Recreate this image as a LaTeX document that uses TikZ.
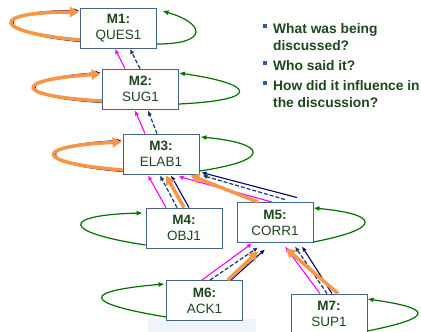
\documentclass[tikz,border=0pt]{standalone}
\usepackage{fontspec}
\setmainfont{Liberation Sans}
\usetikzlibrary{arrows.meta}
\usetikzlibrary{calc}

\definecolor{boxline}{RGB}{70,100,135}
\definecolor{textgreen}{RGB}{28,72,28}
\definecolor{loopgreen}{RGB}{0,112,0}
\definecolor{navyline}{RGB}{0,0,110}
\definecolor{dashnavy}{RGB}{25,55,105}
\definecolor{pinkline}{RGB}{255,0,255}
\definecolor{tierorange}{RGB}{247,150,70}
\definecolor{bulletblue}{RGB}{50,90,170}
\definecolor{faintblue}{RGB}{238,244,250}

\tikzset{
  msgbox/.style={draw=boxline, line width=0.9pt, fill=white, minimum width=76pt,
    minimum height=40pt, inner sep=0pt, align=center, text=textgreen,
    font=\fontsize{13.5}{16}\selectfont},
  qtext/.style={anchor=base west, inner sep=0pt, align=left, text=textgreen,
    font=\bfseries\fontsize{13.8}{17}\selectfont},
  greenloop/.style={draw=loopgreen, line width=1.2pt, -{Latex[length=6pt,width=5pt]}},
  orangearr/.style={draw=tierorange, line width=3.5pt, -{Triangle[length=9pt,width=10pt]}},
  navyarr/.style={draw=navyline, line width=1.1pt, -{Latex[length=5pt,width=4.5pt]}},
  dasharr/.style={draw=dashnavy, line width=1.2pt, dash pattern=on 4pt off 2pt,
    -{Latex[length=5pt,width=4.5pt]}},
  pinkarr/.style={draw=pinkline, line width=1.1pt, -{Latex[length=5pt,width=4.5pt]}}
}

\begin{document}
\begin{tikzpicture}[x=1pt,y=-1pt]
  \useasboundingbox (0,0) rectangle (421,332);
  \fill[faintblue] (148,319) rectangle (256,332);

  % messages
  \node[msgbox] (m1) at (118.5,28.5) {\textbf{M1:}\\QUES1};
  \node[msgbox] (m2) at (140.5,89) {\textbf{M2:}\\SUG1};
  \node[msgbox] (m3) at (161,154) {\textbf{M3:}\\ELAB1};
  \node[msgbox] (m4) at (184,228) {\textbf{M4:}\\OBJ1};
  \node[msgbox] (m5) at (275,222.5) {\textbf{M5:}\\CORR1};
  \node[msgbox] (m6) at (204.5,300.5) {\textbf{M6:}\\ACK1};
  \node[msgbox] (m7) at (329,314) {\textbf{M7:}\\SUP1};

  % questions (base = last line)
  \node[qtext] (q1) at (273,50) {What was being\\discussed?};
  \node[qtext] (q2) at (273,70) {Who said it?};
  \node[qtext] (q3) at (273,107) {How did it influence in\\the discussion?};
  \fill[bulletblue] ($(q1.base west)+(-10,-26)$) rectangle +(4,4);
  \fill[bulletblue] ($(q2.base west)+(-10,-9)$) rectangle +(4,4);
  \fill[bulletblue] ($(q3.base west)+(-10,-26)$) rectangle +(4,4);

  % loops on the left
  \draw[navyarr] ($(m1.west)+(0,13)$) .. controls +(-88,-8) and +(-88,0) .. ($(m1.west)+(-1,-18)$);
  \draw[orangearr] ($(m1.west)+(0,11.5)$) .. controls +(-90,-8) and +(-90,0) .. ($(m1.west)+(-1,-16.5)$);
  \draw[navyarr] ($(m2.west)+(0,13.5)$) .. controls +(-88,-5) and +(-87,6) .. ($(m2.west)+(-1.5,-16.5)$);
  \draw[orangearr] ($(m2.west)+(0,12)$) .. controls +(-90,-5) and +(-89,6) .. ($(m2.west)+(-1.5,-15)$);
  \draw[navyarr] ($(m3.west)+(0,17.5)$) .. controls +(-88,-7) and +(-88,4) .. ($(m3.west)+(-1,-13.5)$);
  \draw[orangearr] ($(m3.west)+(0,16)$) .. controls +(-90,-7) and +(-90,4) .. ($(m3.west)+(-1,-12)$);
  \draw[greenloop] ($(m4.west)+(0,17)$) .. controls +(-86,-13) and +(-81,2) .. ($(m4.west)+(-3,-15)$);
  \draw[greenloop] ($(m6.west)+(0,16.5)$) .. controls +(-85,-14) and +(-83,7) .. ($(m6.west)+(-1.5,-16.5)$);

  % loops on the right
  \draw[greenloop] ($(m1.east)+(0,15.5)$) .. controls +(53,0) and +(42,12) .. ($(m1.east)+(5.5,-17.5)$);
  \draw[greenloop] ($(m2.east)+(0,15)$) .. controls +(84,-4) and +(76,11) .. ($(m2.east)+(0,-16)$);
  \draw[greenloop] ($(m3.east)+(0,17)$) .. controls +(75,-11) and +(65,6) .. ($(m3.east)+(1,-17)$);
  \draw[greenloop] ($(m5.east)+(0,19.5)$) .. controls +(72,-14) and +(64,6) .. ($(m5.east)+(0,-14.5)$);
  \draw[greenloop] ($(m7.east)+(0,17)$) .. controls +(70,-14) and +(63,9) .. ($(m7.east)+(0,-15)$);

  % M2 -> M1, M3 -> M2
  \draw[pinkarr] ($(m2.north)+(-15.5,0)$) -- ($(m1.south)+(-3.5,0)$);
  \draw[dasharr] ($(m2.north)+(-0.5,0)$) -- ($(m1.south)+(11.5,0)$);
  \draw[pinkarr] ($(m3.north)+(-16,0)$) -- ($(m2.south)+(-5.5,1)$);
  \draw[dasharr] ($(m3.north)+(-4,0)$) -- ($(m2.south)+(7.5,1)$);

  % M4 -> M3
  \draw[pinkarr] ($(m4.north)+(-18,0)$) -- ($(m3.south)+(-13,1)$);
  \draw[dasharr] ($(m4.north)+(-7,0)$) -- ($(m3.south)+(-1,1)$);
  \draw[navyarr] ($(m4.north)+(5,0)$) -- ($(m3.south)+(10,1)$);
  \draw[orangearr] (m4.north) -- ($(m3.south)+(5,1)$);

  % M5 -> M3
  \draw[pinkarr] ($(m5.north)+(-3,0)$) -- ($(m3.south east)+(-21,2)$);
  \draw[dasharr] ($(m5.north)+(10,-2.5)$) -- ($(m3.south east)+(3,1)$);
  \draw[navyarr] ($(m5.north)+(22,-4.5)$) -- ($(m3.south east)+(2,-2)$);
  \draw[orangearr] ($(m5.north)+(-17,0)$) -- ($(m3.south east)+(-9,1)$);

  % M6 -> M5
  \draw[pinkarr] ($(m6.north)+(-2.5,0)$) -- ($(m5.south)+(-23,0.5)$);
  \draw[dasharr] ($(m6.north)+(5.5,0)$) -- ($(m5.south)+(-17,4.5)$);
  \draw[navyarr] ($(m6.north)+(26.5,0)$) -- ($(m5.south)+(-10,6.5)$);
  \draw[orangearr] ($(m6.north)+(23.5,0)$) -- ($(m5.south)+(-17,8.5)$);

  % M7 -> M5
  \draw[pinkarr] ($(m7.north)+(-9,0)$) -- ($(m5.south)+(10,3.5)$);
  \draw[dasharr] ($(m7.north)+(-2,0)$) -- ($(m5.south)+(20,3.5)$);
  \draw[navyarr] ($(m7.north)+(3,0)$) -- ($(m5.south)+(27,3.5)$);
  \draw[orangearr] ($(m7.north)+(9,0)$) -- ($(m5.south)+(11,5.5)$);
\end{tikzpicture}
\end{document}
